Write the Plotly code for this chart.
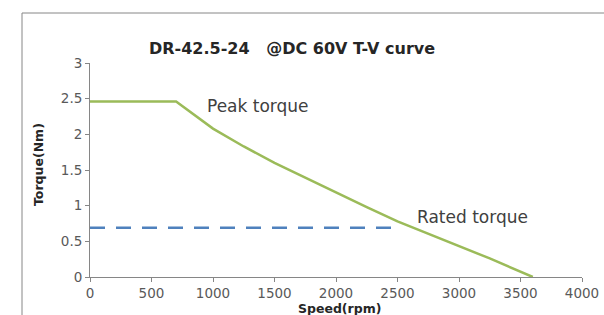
import plotly.graph_objects as go

speed = [0, 700, 1000, 1250, 1500, 1750, 2000, 2250, 2500, 2750, 3000, 3250, 3600]
peak_torque = [2.46, 2.46, 2.08, 1.83, 1.60, 1.39, 1.19, 0.98, 0.78, 0.61, 0.44, 0.26, 0.0]
rated_speed = [0, 2520]
rated_torque = [0.69, 0.69]
x_ticks = [0, 500, 1000, 1500, 2000, 2500, 3000, 3500, 4000]
y_ticks = [0, 0.5, 1, 1.5, 2, 2.5, 3]
y_tick_text = ["0", "0.5", "1", "1.5", "2", "2.5", "3"]

FONT = "'DejaVu Sans', sans-serif"
GRAY = "#595959"
AX = "#868686"
DARK = "#262626"

fig = go.Figure()
fig.add_trace(go.Scatter(x=speed, y=peak_torque, mode="lines",
                         line=dict(color="#9bbb59", width=2.5), showlegend=False))
fig.add_trace(go.Scatter(x=rated_speed, y=rated_torque, mode="lines",
                         line=dict(color="#4f81bd", width=2.5, dash="15px,11px"),
                         showlegend=False))

fig.add_annotation(x=935, y=2.40, text="Peak torque", showarrow=False,
                   xanchor="left", yanchor="middle",
                   font=dict(family=FONT, size=17, color="#404040"))
fig.add_annotation(x=2642, y=0.84, text="Rated torque", showarrow=False,
                   xanchor="left", yanchor="middle",
                   font=dict(family=FONT, size=17, color="#404040"))

# axis titles
fig.add_annotation(xref="paper", yref="paper", x=(339 - 90) / 492, y=(277 - 308) / 214,
                   text="<b>Speed(rpm)</b>", showarrow=False, xanchor="center",
                   yanchor="middle", font=dict(family=FONT, size=12.5, color=DARK))
fig.add_annotation(xref="paper", yref="paper", x=(38 - 90) / 492, y=(277 - 165) / 214,
                   text="<b>Torque(Nm)</b>", showarrow=False, xanchor="center",
                   yanchor="middle", textangle=-90,
                   font=dict(family=FONT, size=12.5, color=DARK))

fig.add_shape(type="rect", xref="paper", yref="paper",
              x0=(22 - 90) / 492, x1=1.3, y0=-0.5, y1=(277 - 13) / 214,
              line=dict(color=AX, width=1), fillcolor="rgba(0,0,0,0)", layer="below")

fig.update_layout(
    width=604, height=315,
    margin=dict(l=90, r=22, t=63, b=38, autoexpand=False),
    paper_bgcolor="white", plot_bgcolor="white",
    title=dict(text="<b>DR-42.5-24   @DC 60V T-V curve</b>", x=292 / 604, xanchor="center",
               y=1 - 48 / 315, yanchor="middle",
               font=dict(family=FONT, size=16, color=DARK)),
    xaxis=dict(range=[0, 4000], tickvals=x_ticks, showgrid=False, zeroline=False,
               showline=True, linecolor=AX, linewidth=1, ticks="outside",
               tickcolor=AX, ticklen=4, automargin=False,
               tickfont=dict(family=FONT, size=13.5, color=GRAY)),
    yaxis=dict(range=[0, 3], tickvals=y_ticks, ticktext=y_tick_text, showgrid=False,
               zeroline=False, showline=True, linecolor=AX, linewidth=1,
               ticks="outside", tickcolor=AX, ticklen=4, automargin=False,
               tickfont=dict(family=FONT, size=13.5, color=GRAY)),
)

fig.write_html("out.html", config={"displayModeBar": False},
               post_script="document.body.style.margin='0';document.body.style.overflow='hidden';")
